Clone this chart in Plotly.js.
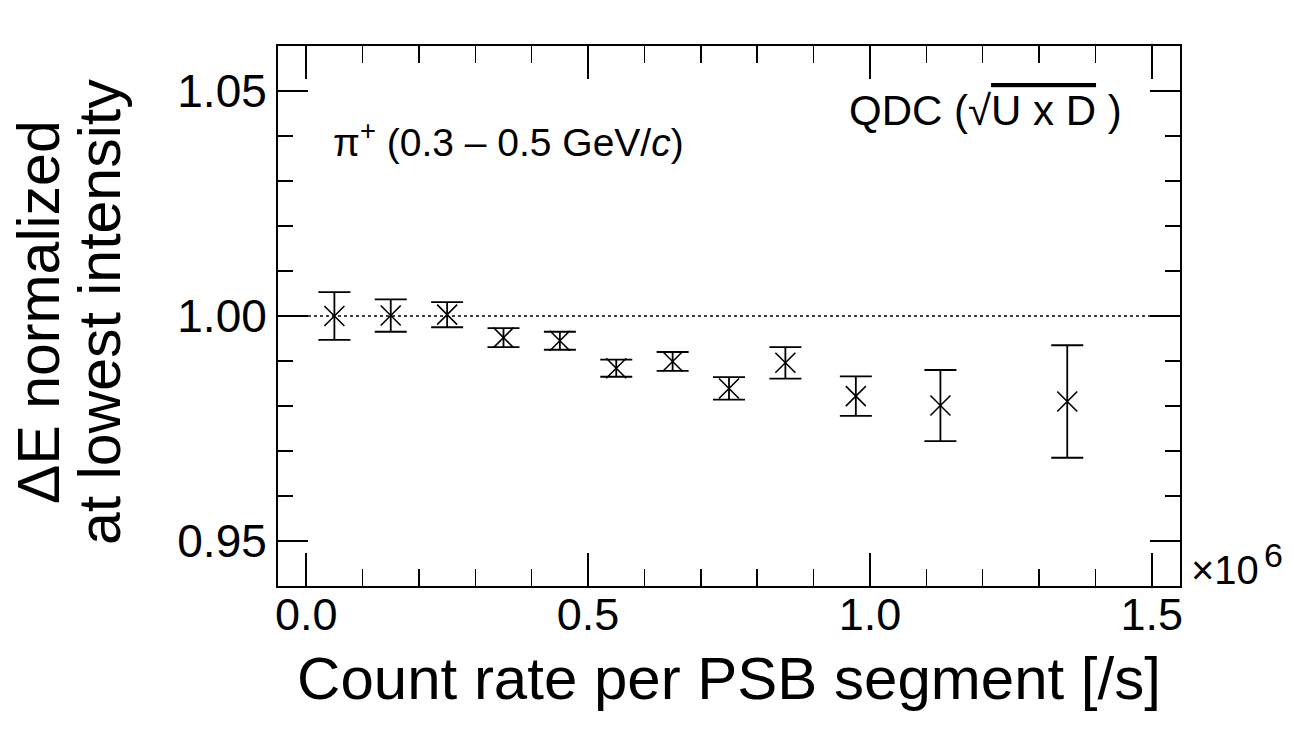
<!DOCTYPE html>
<html>
<head>
<meta charset="utf-8">
<script src="https://cdn.plot.ly/plotly-3.0.1.min.js"></script>
<style>html,body{margin:0;padding:0;background:#fff;}#chart{width:1294px;height:729px;}</style>
</head>
<body>
<div id="chart"></div>
<script>
// Data (count rate in units of 1e6 /s)
const countRate = [0.05, 0.15, 0.25, 0.35, 0.45, 0.55, 0.65, 0.75, 0.85, 0.975, 1.125, 1.35];
const dENorm    = [1.0000, 1.0001, 1.0003, 0.9952, 0.9945, 0.9884, 0.9899, 0.9839, 0.9896, 0.9822, 0.9801, 0.9810];
const dEErr     = [0.0053, 0.0036, 0.0028, 0.0021, 0.0020, 0.0019, 0.0021, 0.0025, 0.0035, 0.0044, 0.0079, 0.0125];
const refLevel = 1.0;
const xTickVals = [0, 0.5, 1.0, 1.5];
const xTickText = ["0.0", "0.5", "1.0", "1.5"];
const yTickVals = [0.95, 1.00, 1.05];
const yTickText = ["0.95", "1.00", "1.05"];

const FONT = "Liberation Sans, Arial, Helvetica, sans-serif";

const trace = {
  x: countRate, y: dENorm, type: "scatter", mode: "markers",
  marker: {symbol: "x-thin-open", size: 20, color: "black", line: {width: 1.6, color: "black"}},
  error_y: {type: "data", array: dEErr, visible: true, color: "black", thickness: 1.8, width: 16},
  showlegend: false, hoverinfo: "skip"
};

const layout = {
  width: 1294, height: 729,
  margin: {l: 278, r: 114, t: 46, b: 143, pad: 0},
  paper_bgcolor: "white", plot_bgcolor: "white",
  font: {family: FONT, color: "black"},
  xaxis: {
    range: [-0.05, 1.55], showgrid: false, zeroline: false,
    showline: true, linecolor: "black", linewidth: 2, mirror: "ticks",
    ticks: "inside", ticklen: 33, tickwidth: 1.6, tickcolor: "black",
    tickvals: xTickVals, ticktext: xTickText, ticklabelstandoff: -12,
    tickfont: {family: FONT, size: 45, color: "black"},
    minor: {dtick: 0.1, tick0: 0, ticks: "inside", ticklen: 17, tickwidth: 1.6, tickcolor: "black", showgrid: false},
    title: {text: "Count rate per PSB segment [/s]", font: {family: FONT, size: 60, color: "black"}, standoff: 18}
  },
  yaxis: {
    range: [0.94, 1.06], showgrid: false, zeroline: false,
    showline: true, linecolor: "black", linewidth: 2, mirror: "ticks",
    ticks: "inside", ticklen: 30, tickwidth: 1.6, tickcolor: "black",
    tickvals: yTickVals, ticktext: yTickText,
    tickfont: {family: FONT, size: 46, color: "black"},
    minor: {dtick: 0.01, tick0: 0.94, ticks: "inside", ticklen: 15, tickwidth: 1.6, tickcolor: "black", showgrid: false}
  },
  shapes: [
    {type: "line", xref: "paper", x0: 0, x1: 1, yref: "y", y0: refLevel, y1: refLevel,
     line: {color: "black", width: 1.5, dash: "dot"}, layer: "below"}
  ],
  annotations: [
    {xref: "paper", yref: "paper", x: (39 - 278) / 902, y: (586 - 312) / 540, xanchor: "center", yanchor: "middle",
     textangle: -90, showarrow: false, text: "ΔE normalized", font: {family: FONT, size: 59, color: "black"}},
    {xref: "paper", yref: "paper", x: (100 - 278) / 902, y: (586 - 312) / 540, xanchor: "center", yanchor: "middle",
     textangle: -90, showarrow: false, text: "at lowest intensity", font: {family: FONT, size: 59, color: "black"}},
    {xref: "paper", yref: "paper", x: (331 - 278) / 902, y: (586 - 139) / 540, xanchor: "left", yanchor: "middle",
     showarrow: false, text: "π<sup>+</sup> (0.3 – 0.5 GeV/<i>c</i>)", font: {family: FONT, size: 39, color: "black"}},
    {xref: "paper", yref: "paper", x: (985 - 278) / 902, y: (586 - 111) / 540, xanchor: "center", yanchor: "middle",
     showarrow: false, text: "QDC (√<span style=\"text-decoration:overline\">U x D</span> )", font: {family: FONT, size: 42, color: "black"}},
    {xref: "paper", yref: "paper", x: (1189 - 278) / 902, y: (586 - 570) / 540, xanchor: "left", yanchor: "middle",
     showarrow: false, text: "×10", font: {family: FONT, size: 40, color: "black"}},
    {xref: "paper", yref: "paper", x: (1262 - 278) / 902, y: (586 - 555) / 540, xanchor: "left", yanchor: "middle",
     showarrow: false, text: "6", font: {family: FONT, size: 34, color: "black"}}
  ]
};

Plotly.newPlot("chart", [trace], layout, {staticPlot: true, displayModeBar: false});
</script>
</body>
</html>
